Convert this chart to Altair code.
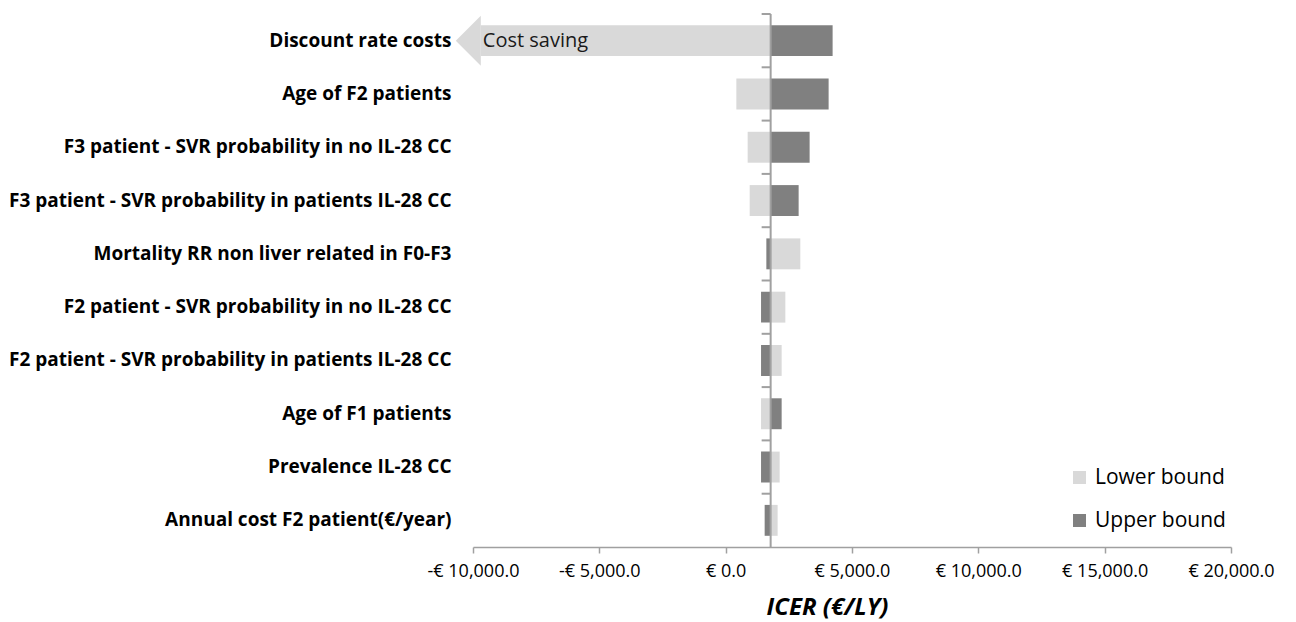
import altair as alt
import pandas as pd

categories = [
    "Discount rate costs",
    "Age of F2 patients",
    "F3 patient - SVR probability in no IL-28 CC",
    "F3 patient - SVR probability in patients IL-28 CC",
    "Mortality RR non liver related in F0-F3",
    "F2 patient - SVR probability in no IL-28 CC",
    "F2 patient - SVR probability in patients IL-28 CC",
    "Age of F1 patients",
    "Prevalence IL-28 CC",
    "Annual cost F2 patient(€/year)",
]
lower_values = [-9690, 423, 870, 950, 2955, 2362, 2216, 1400, 2137, 2057]
upper_values = [4233, 4075, 3323, 2888, 1610, 1400, 1400, 2216, 1400, 1543]
base_icer = 1780
bound_names = ["Lower bound", "Upper bound"]
bound_colors = ["#D9D9D9", "#808080"]
x_ticks = [-10000, -5000, 0, 5000, 10000, 15000, 20000]
annotation = "Cost saving"

rows = []
for c, lo, up in zip(categories, lower_values, upper_values):
    rows.append({"param": c, "bound": bound_names[0], "value": lo, "base": base_icer})
    rows.append({"param": c, "bound": bound_names[1], "value": up, "base": base_icer})
df = pd.DataFrame(rows)

FONT = "Open Sans"
AXIS_GRAY = "#A0A0A0"

yenc = alt.Y(
    "param:N",
    sort=categories,
    scale=alt.Scale(paddingInner=0.42, paddingOuter=0.21),
    axis=alt.Axis(
        title=None, domain=False, ticks=False, labelPadding=22,
        labelFont=FONT, labelFontSize=19, labelFontWeight="bold",
        labelColor="#000000", labelLimit=1000,
    ),
)
xscale = alt.Scale(domain=[-10000, 20000], nice=False, zero=False)
xaxis = alt.Axis(
    values=x_ticks, grid=False, domainColor=AXIS_GRAY, domainWidth=1.5,
    tickColor=AXIS_GRAY, tickWidth=1.5, tickSize=6, labelPadding=9,
    labelFlush=False, labelOverlap=False,
    labelFont=FONT, labelFontSize=18, labelColor="#000000",
    labelExpr="(datum.value < 0 ? '-€ ' : '€ ') + format(abs(datum.value), ',.1f')",
    title="ICER (€/LY)", titleFont=FONT, titleFontSize=24, titleFontWeight="bold",
    titleFontStyle="italic", titleColor="#000000", titleX=354, titleY=60,
    titleAlign="center", titleBaseline="middle", titleAnchor="start",
)

bars = alt.Chart(df).mark_bar(opacity=1).encode(
    y=yenc,
    x=alt.X("value:Q", scale=xscale, axis=xaxis),
    x2=alt.X2("base:Q"),
    color=alt.Color(
        "bound:N",
        scale=alt.Scale(domain=bound_names, range=bound_colors),
        legend=alt.Legend(
            title=None, orient="none", legendX=596, legendY=453,
            direction="vertical", symbolType="square", symbolSize=169,
            symbolStrokeWidth=0, symbolOpacity=1, labelFont=FONT,
            labelFontSize=21, labelColor="#000000", labelOffset=5,
            rowPadding=21, padding=0, labelLimit=300,
        ),
    ),
)

arrow_df = pd.DataFrame({"param": [categories[0]], "value": [lower_values[0]], "text": [annotation]})
arrow_head = alt.Chart(arrow_df).mark_point(
    shape="M0,-1L-1,0L0,1Z", size=2500, filled=True, color=bound_colors[0],
    opacity=1, strokeWidth=0,
).encode(x=alt.X("value:Q", scale=xscale), y=alt.Y("param:N", sort=categories))

arrow_text = alt.Chart(arrow_df).mark_text(
    align="left", baseline="middle", dx=2, font=FONT, fontSize=20, color="#1a1a1a",
).encode(x=alt.X("value:Q", scale=xscale), y=alt.Y("param:N", sort=categories), text="text:N")

base_df = pd.DataFrame({"b": [base_icer]})
base_line = alt.Chart(base_df).mark_rule(color=AXIS_GRAY, strokeWidth=2).encode(
    x=alt.X("b:Q", scale=xscale)
)

tick_df = pd.DataFrame({"param": categories, "b": [base_icer] * len(categories)})
base_ticks = alt.Chart(tick_df).mark_rule(
    color=AXIS_GRAY, strokeWidth=2, xOffset=-9, x2Offset=0, yOffset=-26.65
).encode(
    x=alt.X("b:Q", scale=xscale), x2="b:Q", y=alt.Y("param:N", sort=categories)
)

chart = alt.layer(bars, arrow_head, arrow_text, base_line, base_ticks).properties(
    width=758, height=533,
    autosize=alt.AutoSizeParams(type="none"),
    padding={"left": 473, "top": 14, "right": 65, "bottom": 75},
).configure_view(stroke=None)

chart.save("out.html", embed_options={"renderer": "svg", "actions": False})
